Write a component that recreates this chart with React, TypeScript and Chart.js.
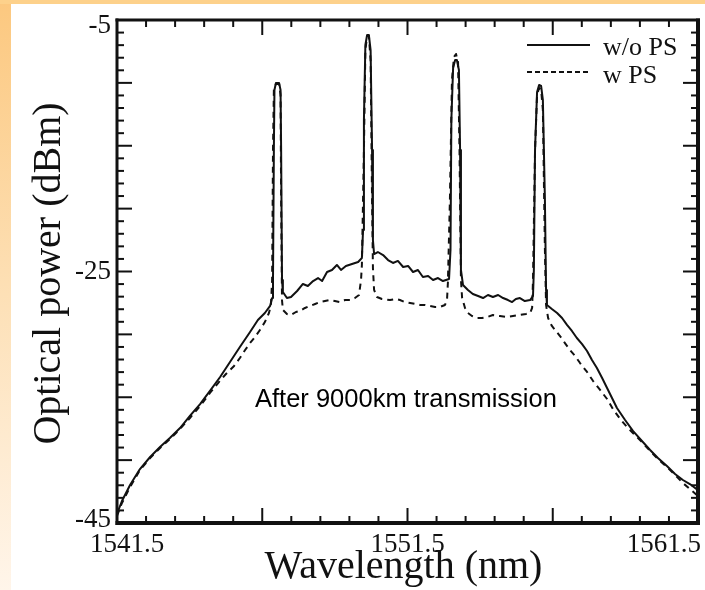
import React, { useEffect, useRef } from 'react';
import { Chart, registerables } from 'chart.js';

Chart.register(...registerables);

// ---- Data (wavelength in nm, optical power in dBm) ----
const woWavelength = [
  1541.50, 1541.67, 1541.95, 1542.29, 1542.64, 1542.98, 1543.32, 1543.67, 1544.01, 1544.36,
  1544.70, 1545.05, 1545.39, 1545.73, 1546.08, 1546.35, 1546.59, 1546.77, 1546.84, 1546.87,
  1546.90, 1546.92, 1546.97, 1547.08, 1547.13, 1547.15, 1547.18, 1547.21, 1547.35, 1547.49,
  1547.70, 1547.90, 1548.07, 1548.25, 1548.42, 1548.56, 1548.73, 1548.90, 1549.07, 1549.21,
  1549.38, 1549.59, 1549.80, 1549.93, 1549.97, 1550.00, 1550.05, 1550.11, 1550.17, 1550.23,
  1550.28, 1550.31, 1550.35, 1550.48, 1550.66, 1550.83, 1551.00, 1551.17, 1551.35, 1551.52,
  1551.69, 1551.86, 1552.03, 1552.21, 1552.38, 1552.55, 1552.72, 1552.93, 1552.98, 1553.01,
  1553.07, 1553.14, 1553.20, 1553.27, 1553.31, 1553.34, 1553.41, 1553.58, 1553.75, 1553.93,
  1554.10, 1554.27, 1554.44, 1554.62, 1554.79, 1554.96, 1555.10, 1555.23, 1555.37, 1555.54,
  1555.72, 1555.82, 1555.85, 1555.89, 1555.96, 1556.03, 1556.10, 1556.16, 1556.23, 1556.27,
  1556.30, 1556.47, 1556.65, 1556.82, 1556.99, 1557.16, 1557.33, 1557.51, 1557.68, 1557.85,
  1558.02, 1558.20, 1558.37, 1558.54, 1558.71, 1558.99, 1559.26, 1559.57, 1559.85, 1560.12,
  1560.43, 1560.71, 1560.98, 1561.22, 1561.50,
];
const woPower = [
  -44.28, -43.25, -41.98, -40.71, -39.75, -38.96, -38.24, -37.45, -36.49, -35.54,
  -34.50, -33.39, -32.20, -31.00, -29.81, -28.86, -28.30, -27.74, -27.11, -25.68,
  -15.34, -10.57, -10.01, -10.01, -10.57, -15.34, -25.68, -26.63, -27.11, -27.03,
  -26.55, -25.99, -26.15, -25.76, -25.52, -25.76, -25.04, -24.88, -24.48, -24.88,
  -24.56, -24.40, -24.24, -23.93, -21.70, -12.95, -6.99, -6.19, -6.19, -7.39,
  -15.34, -22.50, -23.61, -23.45, -23.69, -24.09, -24.32, -24.16, -24.64, -24.56,
  -25.04, -24.88, -25.44, -25.36, -25.68, -25.52, -25.76, -25.60, -23.29, -12.95,
  -8.82, -8.18, -8.18, -8.98, -15.34, -24.88, -26.07, -26.47, -26.79, -26.95,
  -27.11, -26.87, -27.03, -26.87, -27.11, -27.27, -27.43, -27.19, -27.11, -27.35,
  -27.27, -26.95, -24.88, -15.34, -10.73, -10.17, -10.25, -11.36, -19.31, -26.47,
  -27.66, -27.98, -28.30, -28.70, -29.25, -29.73, -30.29, -30.77, -31.32, -32.04,
  -32.67, -33.47, -34.26, -35.06, -35.85, -36.81, -37.68, -38.48, -39.19, -39.83,
  -40.47, -41.10, -41.58, -41.90, -42.40,
];

const wWavelength = [
  1541.50, 1541.67, 1541.95, 1542.29, 1542.64, 1542.98, 1543.32, 1543.67, 1544.01, 1544.36,
  1544.70, 1544.98, 1545.25, 1545.53, 1545.73, 1545.91, 1546.08, 1546.25, 1546.42, 1546.59,
  1546.73, 1546.80, 1546.84, 1546.87, 1546.90, 1546.97, 1547.08, 1547.13, 1547.15, 1547.18,
  1547.21, 1547.35, 1547.49, 1547.66, 1547.80, 1547.97, 1548.14, 1548.32, 1548.49, 1548.66,
  1548.83, 1549.00, 1549.18, 1549.35, 1549.52, 1549.69, 1549.83, 1549.90, 1549.93, 1550.00,
  1550.05, 1550.11, 1550.17, 1550.23, 1550.28, 1550.31, 1550.35, 1550.45, 1550.62, 1550.90,
  1551.10, 1551.24, 1551.41, 1551.59, 1551.76, 1551.93, 1552.10, 1552.27, 1552.45, 1552.62,
  1552.79, 1552.86, 1552.89, 1552.96, 1553.03, 1553.10, 1553.17, 1553.24, 1553.29, 1553.34,
  1553.38, 1553.48, 1553.58, 1553.72, 1553.89, 1554.06, 1554.24, 1554.44, 1554.68, 1554.93,
  1555.13, 1555.37, 1555.58, 1555.72, 1555.79, 1555.82, 1555.89, 1555.96, 1556.03, 1556.10,
  1556.16, 1556.23, 1556.27, 1556.34, 1556.47, 1556.61, 1556.75, 1556.92, 1557.09, 1557.27,
  1557.44, 1557.68, 1557.89, 1558.13, 1558.37, 1558.57, 1558.82, 1559.06, 1559.26, 1559.57,
  1559.85, 1560.12, 1560.43, 1560.71, 1560.98, 1561.22, 1561.50,
];
const wPower = [
  -44.44, -43.41, -42.14, -40.79, -39.83, -39.04, -38.32, -37.52, -36.65, -35.70,
  -34.66, -33.87, -33.15, -32.51, -31.88, -31.24, -30.69, -30.21, -29.65, -29.02,
  -28.30, -27.66, -25.68, -15.34, -10.57, -10.09, -10.09, -10.96, -19.31, -27.27,
  -28.06, -28.38, -28.46, -28.22, -28.14, -27.90, -27.74, -27.58, -27.43, -27.35,
  -27.27, -27.35, -27.43, -27.27, -27.27, -27.11, -26.87, -25.68, -24.48, -15.34,
  -7.39, -6.27, -6.27, -8.18, -19.31, -24.72, -26.47, -27.03, -27.19, -27.27,
  -27.19, -27.27, -27.43, -27.51, -27.58, -27.66, -27.66, -27.74, -27.82, -27.82,
  -27.66, -27.27, -25.91, -19.31, -9.77, -7.94, -7.70, -8.34, -15.34, -25.68,
  -27.11, -27.90, -28.30, -28.54, -28.70, -28.70, -28.62, -28.46, -28.54, -28.62,
  -28.54, -28.46, -28.38, -28.30, -27.90, -25.68, -15.34, -10.96, -10.41, -10.57,
  -12.16, -23.29, -27.66, -28.70, -29.33, -29.73, -30.13, -30.69, -31.24, -31.72,
  -32.28, -32.99, -33.71, -34.42, -35.14, -35.93, -36.73, -37.37, -37.84, -38.56,
  -39.27, -39.91, -40.55, -41.18, -41.82, -42.30, -42.85,
];

const seriesLabels = ['w/o PS', 'w PS'];
const xMin = 1541.5;
const xMax = 1561.5;
const yMin = -45;
const yMax = -5;
const xTickLabels = [1541.5, 1551.5, 1561.5];
const yTickLabels = [-45, -25, -5];
const xMajorTicks = [1541.5, 1546.5, 1551.5, 1556.5, 1561.5];
const yMajorTicks = [-45, -40, -35, -30, -25, -20, -15, -10, -5];
const xTitle = 'Wavelength (nm)';
const yTitle = 'Optical power (dBm)';
const annotationText = 'After 9000km transmission';

const SERIF = '"Liberation Serif", "Times New Roman", "DejaVu Serif", serif';
const SANS = '"Liberation Sans", Arial, "DejaVu Sans", sans-serif';
const INK = '#111';

const decorPlugin = {
  id: 'decor',
  beforeDraw(chart: any) {
    const { ctx, width, height } = chart;
    ctx.save();
    const g = ctx.createLinearGradient(0, 0, 0, height);
    g.addColorStop(0, '#fcc87f');
    g.addColorStop(0.5, '#fde0b6');
    g.addColorStop(1, '#fff5ea');
    ctx.fillStyle = g;
    ctx.fillRect(0, 0, width, height);
    ctx.fillStyle = '#fdd18b';
    ctx.fillRect(0, 0, width, 4);
    ctx.fillStyle = '#ffffff';
    ctx.fillRect(11, 4, width - 11, height - 4);
    ctx.restore();
  },
  afterDraw(chart: any) {
    const { ctx, chartArea, scales } = chart;
    const { left, right, top, bottom } = chartArea;
    const xs = scales.x;
    const ys = scales.y;
    ctx.save();
    ctx.strokeStyle = INK;
    ctx.fillStyle = INK;
    ctx.lineCap = 'butt';

    const seg = (x1: number, y1: number, x2: number, y2: number, w: number) => {
      ctx.lineWidth = w;
      ctx.beginPath();
      ctx.moveTo(x1, y1);
      ctx.lineTo(x2, y2);
      ctx.stroke();
    };

    // inward ticks on all four sides
    for (let v = xMin; v <= xMax + 1e-6; v += 1) {
      const px = xs.getPixelForValue(v);
      const major = xMajorTicks.some((m) => Math.abs(m - v) < 1e-6);
      const len = major ? 15 : 7;
      seg(px, bottom, px, bottom - len, 2);
      seg(px, top, px, top + len, 2);
    }
    for (let v = yMin; v <= yMax + 1e-6; v += 1) {
      const py = ys.getPixelForValue(v);
      const major = yMajorTicks.some((m) => Math.abs(m - v) < 1e-6);
      const len = major ? 15 : 7;
      seg(left, py, left + len, py, 2);
      seg(right, py, right - len, py, 2);
    }

    // frame
    seg(left, top - 1.5, left, bottom + 2, 3);
    seg(left - 1.5, top, right + 2, top, 3);
    seg(right, top - 1.5, right, bottom + 2, 4);
    seg(left - 1.5, bottom, right + 2, bottom, 4);

    // tick labels
    ctx.font = `27px ${SERIF}`;
    ctx.textAlign = 'right';
    ctx.textBaseline = 'middle';
    yTickLabels.forEach((v) => {
      let py = ys.getPixelForValue(v);
      py = Math.min(Math.max(py, top + 6), bottom - 3);
      ctx.fillText(String(v), left - 6, py);
    });
    ctx.textAlign = 'left';
    ctx.textBaseline = 'alphabetic';
    xTickLabels.forEach((v) => {
      const txt = v.toFixed(1);
      const w = ctx.measureText(txt).width;
      let x0 = xs.getPixelForValue(v) - w / 2;
      if (x0 < left - 27) x0 = left - 27;
      if (x0 + w > right + 3) x0 = right + 3 - w;
      ctx.fillText(txt, x0, bottom + 29);
    });

    // axis titles
    ctx.font = `40px ${SERIF}`;
    ctx.textAlign = 'center';
    ctx.textBaseline = 'alphabetic';
    ctx.fillText(xTitle, (left + right) / 2 - 4, bottom + 55);
    ctx.save();
    ctx.translate(60, (top + bottom) / 2 + 2);
    ctx.rotate(-Math.PI / 2);
    ctx.fillText(yTitle, 0, 0);
    ctx.restore();

    // legend
    const lx1 = 527;
    const lx2 = 590;
    ctx.lineWidth = 2;
    ctx.beginPath();
    ctx.moveTo(lx1, 45);
    ctx.lineTo(lx2, 45);
    ctx.stroke();
    ctx.setLineDash([5, 3]);
    ctx.beginPath();
    ctx.moveTo(lx1, 72);
    ctx.lineTo(lx2, 72);
    ctx.stroke();
    ctx.setLineDash([]);
    ctx.font = `26px ${SERIF}`;
    ctx.textAlign = 'left';
    ctx.fillText(seriesLabels[0], 603, 55);
    ctx.fillText(seriesLabels[1], 603, 83);

    // annotation
    ctx.font = `25.5px ${SANS}`;
    ctx.fillStyle = '#000';
    ctx.textAlign = 'left';
    ctx.fillText(annotationText, 255, 407);

    ctx.restore();
  },
};

export default function App() {
  const canvasRef = useRef<HTMLCanvasElement | null>(null);

  useEffect(() => {
    const canvas = canvasRef.current;
    if (!canvas) return;
    const chart = new Chart(canvas, {
      type: 'line',
      data: {
        datasets: [
          {
            label: seriesLabels[0],
            data: woWavelength.map((x, i) => ({ x, y: woPower[i] })),
            borderColor: INK,
            borderWidth: 2,
            pointRadius: 0,
            tension: 0,
            fill: false,
            borderJoinStyle: 'round',
          },
          {
            label: seriesLabels[1],
            data: wWavelength.map((x, i) => ({ x, y: wPower[i] })),
            borderColor: INK,
            borderWidth: 2,
            borderDash: [6, 5],
            pointRadius: 0,
            tension: 0,
            fill: false,
            borderJoinStyle: 'round',
          },
        ],
      },
      options: {
        responsive: false,
        animation: false,
        devicePixelRatio: 1,
        layout: { padding: { left: 117, top: 20, right: 7, bottom: 67 } },
        plugins: {
          legend: { display: false },
          tooltip: { enabled: false },
        },
        scales: {
          x: { type: 'linear', min: xMin, max: xMax, display: false },
          y: { type: 'linear', min: yMin, max: yMax, display: false },
        },
      },
      plugins: [decorPlugin],
    } as any);
    return () => chart.destroy();
  }, []);

  return (
    <div style={{ position: 'fixed', left: 0, top: 0, width: 705, height: 590 }}>
      <canvas ref={canvasRef} width={705} height={590} style={{ display: 'block' }} />
    </div>
  );
}
